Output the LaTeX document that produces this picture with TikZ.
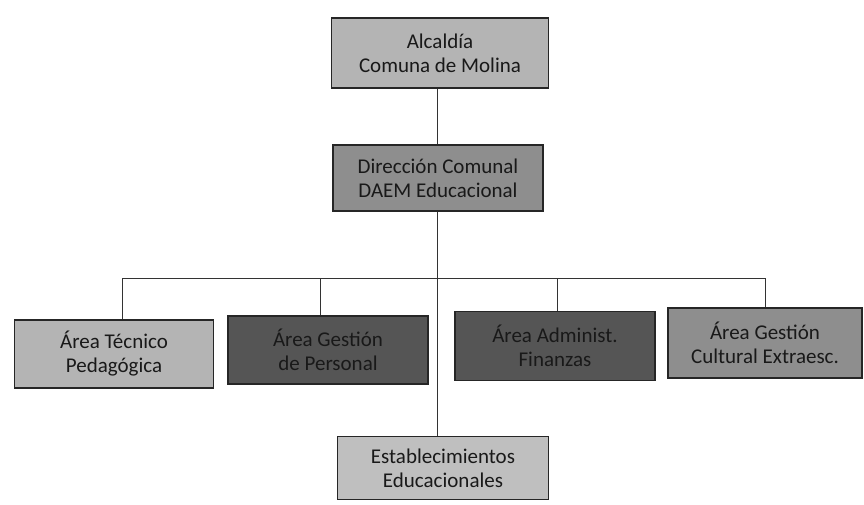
\documentclass[tikz,border=0pt]{standalone}
\usepackage{fontspec}
\setmainfont{Carlito}
\begin{document}
\begin{tikzpicture}[x=1pt,y=-1pt,
  box/.style={draw=black!85, line width=1.2pt, inner sep=2pt, align=center, font=\fontsize{21}{24}\selectfont, text=black!90},
  conn/.style={draw=black!80, line width=1pt}]
\useasboundingbox (0,0) rectangle (864,504);
\definecolor{lightg}{HTML}{B4B4B4}
\definecolor{midg}{HTML}{8E8E8E}
\definecolor{darkg}{HTML}{555555}
\node[box, fill=lightg, minimum width=217, minimum height=70] (alc) at (440,53) {Alcaldía\\Comuna de Molina};
\node[box, fill=midg, minimum width=210, minimum height=66] (dir) at (438,178) {Dirección Comunal\\DAEM Educacional};
\node[box, fill=lightg, minimum width=199, minimum height=68] (a1) at (114,354) {Área Técnico\\Pedagógica};
\node[box, fill=darkg, minimum width=200, minimum height=68] (a2) at (328,350) {Área Gestión\\de Personal};
\node[box, fill=darkg, minimum width=200, minimum height=69] (a3) at (555,346) {Área Administ.\\Finanzas};
\node[box, fill=midg, minimum width=194, minimum height=70] (a4) at (765,343) {Área Gestión\\Cultural Extraesc.};
\node[box, fill=lightg!85!white, minimum width=211, minimum height=63] (est) at (443,468) {Establecimientos\\Educacionales};
\coordinate (bus) at (437,278);
\draw[conn] (alc.south -| 437,0) -- (dir.north -| 437,0);
\draw[conn] (dir.south -| 437,0) -- (est.north -| 437,0);
\draw[conn] (a1.north -| 122,0) -- (122,278) -- (765,278) -- (a4.north);
\draw[conn] (320,278) -- (a2.north -| 320,0);
\draw[conn] (557,278) -- (a3.north -| 557,0);
\end{tikzpicture}
\end{document}
